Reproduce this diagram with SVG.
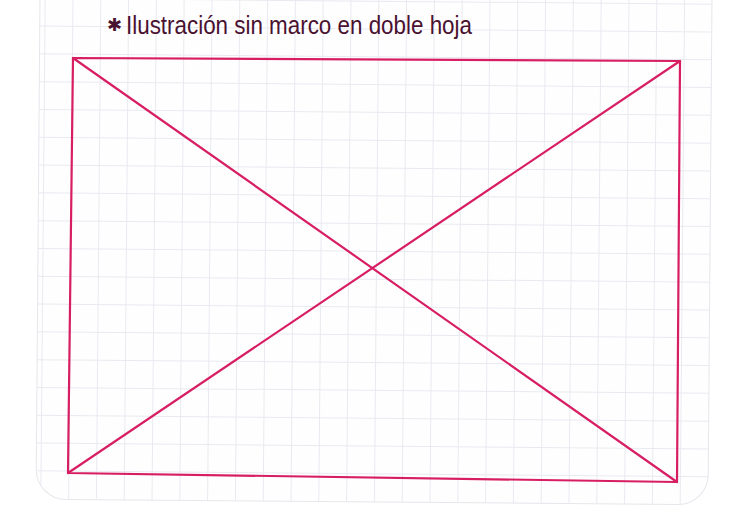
<svg xmlns="http://www.w3.org/2000/svg" width="744" height="508" viewBox="0 0 744 508">
  <style>
    .grid line { stroke: #e9eaf0; stroke-width: 1; }
    .ink { stroke: #d81e63; stroke-width: 2.2; fill: none; stroke-linecap: round; stroke-linejoin: round; }
    .hand { font-family: "Liberation Sans Narrow", "Liberation Sans", sans-serif; fill: #4a1230; }
  </style>
  <defs>
    <clipPath id="paperClip">
      <rect x="38" y="-40" width="672" height="542" rx="30" transform="rotate(0.45 374 250)"/>
    </clipPath>
  </defs>
  <rect width="744" height="508" fill="#ffffff"/>
  <g id="paper">
    <rect x="38" y="-40" width="672" height="542" rx="30" fill="#fefeff" stroke="#e6e6ec" stroke-width="1" transform="rotate(0.45 374 250)"/>
    <g class="grid" clip-path="url(#paperClip)">
      <g transform="rotate(0.5 374 250)">
        <line x1="43" y1="-20" x2="43" y2="520"/>
        <line x1="70.8" y1="-20" x2="70.8" y2="520"/>
        <line x1="98.6" y1="-20" x2="98.6" y2="520"/>
        <line x1="126.4" y1="-20" x2="126.4" y2="520"/>
        <line x1="154.2" y1="-20" x2="154.2" y2="520"/>
        <line x1="182" y1="-20" x2="182" y2="520"/>
        <line x1="209.8" y1="-20" x2="209.8" y2="520"/>
        <line x1="237.6" y1="-20" x2="237.6" y2="520"/>
        <line x1="265.4" y1="-20" x2="265.4" y2="520"/>
        <line x1="293.2" y1="-20" x2="293.2" y2="520"/>
        <line x1="321" y1="-20" x2="321" y2="520"/>
        <line x1="348.8" y1="-20" x2="348.8" y2="520"/>
        <line x1="376.6" y1="-20" x2="376.6" y2="520"/>
        <line x1="404.4" y1="-20" x2="404.4" y2="520"/>
        <line x1="432.2" y1="-20" x2="432.2" y2="520"/>
        <line x1="460" y1="-20" x2="460" y2="520"/>
        <line x1="487.8" y1="-20" x2="487.8" y2="520"/>
        <line x1="515.6" y1="-20" x2="515.6" y2="520"/>
        <line x1="543.4" y1="-20" x2="543.4" y2="520"/>
        <line x1="571.2" y1="-20" x2="571.2" y2="520"/>
        <line x1="599" y1="-20" x2="599" y2="520"/>
        <line x1="626.8" y1="-20" x2="626.8" y2="520"/>
        <line x1="654.6" y1="-20" x2="654.6" y2="520"/>
        <line x1="682.4" y1="-20" x2="682.4" y2="520"/>
        <line x1="20" y1="1.2" x2="730" y2="1.2"/>
        <line x1="20" y1="29" x2="730" y2="29"/>
        <line x1="20" y1="56.8" x2="730" y2="56.8"/>
        <line x1="20" y1="84.6" x2="730" y2="84.6"/>
        <line x1="20" y1="112.4" x2="730" y2="112.4"/>
        <line x1="20" y1="140.2" x2="730" y2="140.2"/>
        <line x1="20" y1="168" x2="730" y2="168"/>
        <line x1="20" y1="195.8" x2="730" y2="195.8"/>
        <line x1="20" y1="223.6" x2="730" y2="223.6"/>
        <line x1="20" y1="251.4" x2="730" y2="251.4"/>
        <line x1="20" y1="279.2" x2="730" y2="279.2"/>
        <line x1="20" y1="307" x2="730" y2="307"/>
        <line x1="20" y1="334.8" x2="730" y2="334.8"/>
        <line x1="20" y1="362.6" x2="730" y2="362.6"/>
        <line x1="20" y1="390.4" x2="730" y2="390.4"/>
        <line x1="20" y1="418.2" x2="730" y2="418.2"/>
        <line x1="20" y1="446" x2="730" y2="446"/>
        <line x1="20" y1="473.8" x2="730" y2="473.8"/>
      </g>
    </g>
  </g>
  <g id="title">
    <text class="hand" x="107" y="31" font-size="18">✱</text>
    <text class="hand" x="126" y="34" font-size="26" textLength="346" lengthAdjust="spacingAndGlyphs">Ilustración sin marco en doble hoja</text>
  </g>
  <g id="frame">
    <polygon class="ink" points="73,58 680,61 677,482 68,473"/>
  </g>
  <g id="connectors">
    <line class="ink" x1="73" y1="58" x2="677" y2="482"/>
    <line class="ink" x1="68" y1="473" x2="680" y2="61"/>
  </g>
</svg>
